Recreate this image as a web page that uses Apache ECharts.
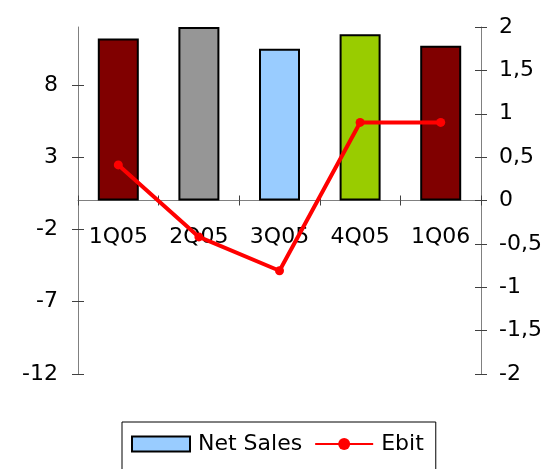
<!DOCTYPE html>
<html>
<head>
<meta charset="utf-8">
<script src="https://cdn.jsdelivr.net/npm/echarts@6/dist/echarts.min.js"></script>
<style>
  html, body { margin: 0; padding: 0; background: #ffffff; }
  #chart { width: 548px; height: 469px; }
</style>
</head>
<body>
<div id="chart"></div>
<script>
// Quarterly net sales (left scale) and Ebit (right scale)
const quarters = ['1Q05', '2Q05', '3Q05', '4Q05', '1Q06'];
const netSales = [11.2, 12.0, 10.5, 11.5, 10.7];
const ebit = [0.41, -0.42, -0.81, 0.9, 0.9];
const barColors = ['#800000', '#969696', '#99CCFF', '#99CC00', '#800000'];
const salesTicks = [-12, -7, -2, 3, 8];
const ebitTicks = [-2, -1.5, -1, -0.5, 0, 0.5, 1, 1.5, 2];

const FONT = 'DejaVu Sans';
const axisGray = '#808080';
const tickDark = '#404040';

const chart = echarts.init(document.getElementById('chart'), null, { renderer: 'canvas' });

const commaFmt = v => String(v).replace('.', ',');

chart.setOption({
  animation: false,
  backgroundColor: '#ffffff',
  textStyle: { fontFamily: FONT, color: '#000' },
  grid: { left: 78, right: 67, top: 27, height: 347, containLabel: false },
  legend: {
    left: 122,
    top: 422,
    orient: 'horizontal',
    padding: [11, 12, 24, 9],
    borderColor: '#000',
    borderWidth: 1,
    itemWidth: 58,
    itemHeight: 15,
    itemGap: 12,
    textStyle: { fontFamily: FONT, fontSize: 22, color: '#000', padding: [0, 0, 0, 3] },
    data: [{ name: 'Net Sales', icon: 'rect' }, { name: 'Ebit' }]
  },
  xAxis: [
    {
      // category axis line on the zero level, ticks pointing down
      type: 'category',
      data: quarters,
      position: 'bottom',
      axisLine: { show: true, onZero: true, onZeroAxisIndex: 0, lineStyle: { color: axisGray, width: 1 } },
      axisTick: { show: true, inside: false, length: 5, lineStyle: { color: tickDark } },
      axisLabel: { show: false },
      splitLine: { show: false }
    },
    {
      // ticks pointing up, so they cross the axis line
      type: 'category',
      data: quarters,
      position: 'bottom',
      axisLine: { show: false, onZero: true, onZeroAxisIndex: 0 },
      axisTick: { show: true, inside: true, length: 5, lineStyle: { color: tickDark } },
      axisLabel: { show: false },
      splitLine: { show: false }
    },
    {
      // quarter names just under the zero line
      type: 'category',
      data: quarters,
      position: 'bottom',
      axisLine: { show: false, onZero: false },
      axisTick: { show: false },
      axisLabel: { fontFamily: FONT, fontSize: 22, color: '#000', margin: -148 },
      splitLine: { show: false }
    }
  ],
  yAxis: [
    {
      type: 'value',
      position: 'left',
      min: -12,
      max: 12,
      interval: 5,
      axisLine: { show: true, lineStyle: { color: axisGray } },
      axisTick: { show: true, inside: false, length: 6, customValues: salesTicks, lineStyle: { color: tickDark } },
      axisLabel: { fontFamily: FONT, fontSize: 22, color: '#000', margin: 20, customValues: salesTicks },
      splitLine: { show: false }
    },
    {
      type: 'value',
      position: 'right',
      min: -2,
      max: 2,
      interval: 0.5,
      axisLine: { show: true, lineStyle: { color: axisGray } },
      axisTick: { show: true, inside: false, length: 6, lineStyle: { color: tickDark } },
      axisLabel: { fontFamily: FONT, fontSize: 22, color: '#000', margin: 18, formatter: commaFmt, customValues: ebitTicks },
      splitLine: { show: false }
    },
    {
      type: 'value',
      position: 'left',
      min: -12,
      max: 12,
      interval: 5,
      axisLine: { show: false },
      axisTick: { show: true, inside: true, length: 6, customValues: salesTicks, lineStyle: { color: tickDark } },
      axisLabel: { show: false },
      splitLine: { show: false }
    },
    {
      type: 'value',
      position: 'right',
      min: -2,
      max: 2,
      interval: 0.5,
      axisLine: { show: false },
      axisTick: { show: true, inside: true, length: 6, lineStyle: { color: tickDark } },
      axisLabel: { show: false },
      splitLine: { show: false }
    }
  ],
  series: [
    {
      name: 'Net Sales',
      type: 'bar',
      xAxisIndex: 0,
      yAxisIndex: 0,
      barWidth: 41,
      itemStyle: { color: '#99CCFF', borderColor: '#000', borderWidth: 2 },
      data: netSales.map((v, i) => ({ value: v, itemStyle: { color: barColors[i] } })),
      z: 2
    },
    {
      name: 'Ebit',
      type: 'line',
      xAxisIndex: 0,
      yAxisIndex: 1,
      data: ebit,
      symbol: 'circle',
      symbolSize: 9,
      lineStyle: { color: '#FF0000', width: 4 },
      itemStyle: { color: '#FF0000' },
      z: 3
    }
  ]
});
</script>
</body>
</html>
